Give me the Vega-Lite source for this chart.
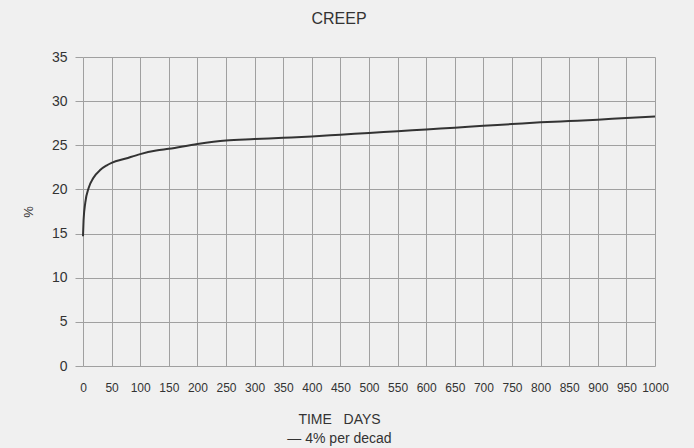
{
  "$schema": "https://vega.github.io/schema/vega-lite/v6.json",
  "width": 572,
  "height": 309,
  "autosize": {"type": "none"},
  "padding": {"left": 83, "top": 57, "right": 39, "bottom": 82},
  "background": "#f0f0f0",
  "config": {
    "view": {"stroke": null},
    "font": "Liberation Sans",
    "axis": {"gridColor": "#a0a0a0", "gridWidth": 1, "gridOpacity": 1, "domain": false, "labelColor": "#333", "titleColor": "#333", "labelFont": "Liberation Sans", "titleFont": "Liberation Sans", "titleFontWeight": "normal"}
  },
  "title": {"text": "CREEP", "fontSize": 16, "fontWeight": "normal", "color": "#333", "offset": 23, "dx": -30, "font": "Liberation Sans"},
  "data": {"values": [
    {"t": 0, "p": 14.7},
    {"t": 1, "p": 16.5},
    {"t": 4, "p": 18.5},
    {"t": 10, "p": 20.2},
    {"t": 18, "p": 21.3},
    {"t": 30, "p": 22.2},
    {"t": 41, "p": 22.7},
    {"t": 50, "p": 23.0},
    {"t": 75, "p": 23.5},
    {"t": 100, "p": 24.0},
    {"t": 128, "p": 24.4},
    {"t": 150, "p": 24.6},
    {"t": 200, "p": 25.15},
    {"t": 250, "p": 25.55},
    {"t": 300, "p": 25.7},
    {"t": 350, "p": 25.85},
    {"t": 400, "p": 26.0},
    {"t": 450, "p": 26.2},
    {"t": 500, "p": 26.4},
    {"t": 550, "p": 26.6},
    {"t": 600, "p": 26.8},
    {"t": 650, "p": 27.0},
    {"t": 700, "p": 27.2},
    {"t": 750, "p": 27.4},
    {"t": 800, "p": 27.6},
    {"t": 850, "p": 27.75},
    {"t": 900, "p": 27.9},
    {"t": 950, "p": 28.1},
    {"t": 1000, "p": 28.25}
  ]},
  "mark": {"type": "line", "color": "#333", "strokeWidth": 2, "interpolate": "monotone"},
  "encoding": {
    "x": {
      "field": "t", "type": "quantitative",
      "scale": {"domain": [0, 1000], "nice": false},
      "axis": {
        "values": [0,50,100,150,200,250,300,350,400,450,500,550,600,650,700,750,800,850,900,950,1000],
        "format": "d",
        "ticks": false, "labelPadding": 16, "labelFontSize": 12, "labelOverlap": false,
        "labelFlush": false,
        "title": ["TIME\u00a0\u00a0\u00a0DAYS", "— 4% per decad"], "titleFontSize": 14, "titlePadding": 19,
        "titleX": 256, "titleAlign": "center", "titleLineHeight": 19
      }
    },
    "y": {
      "field": "p", "type": "quantitative",
      "scale": {"domain": [0, 35], "nice": false},
      "axis": {
        "values": [0,5,10,15,20,25,30,35],
        "ticks": true, "tickSize": 8, "tickColor": "#a0a0a0", "labelPadding": 8,
        "labelFontSize": 14, "title": "%", "titleFontSize": 13, "titlePadding": 16
      }
    }
  }
}
